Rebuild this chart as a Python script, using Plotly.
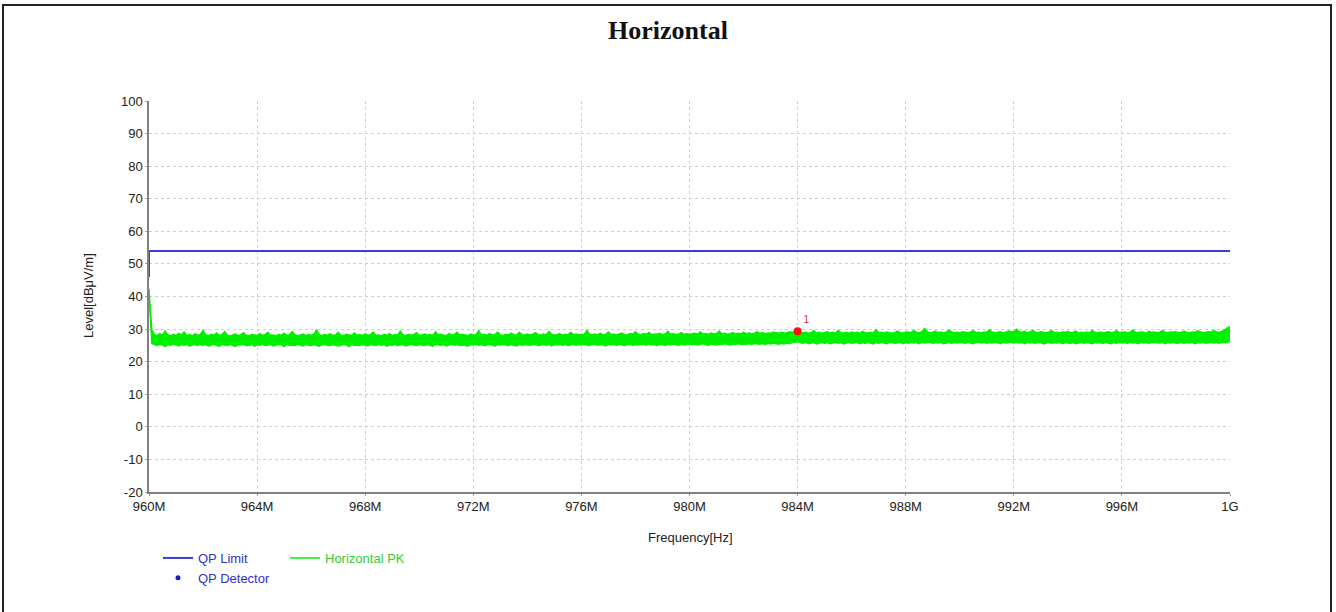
import numpy as np
import plotly.graph_objects as go

# ---- data -------------------------------------------------------------
# limit line (dBuV/m), steps from 46 to 54 at 960 MHz
limit_freq_mhz = [960.0, 960.0, 1000.0]
limit_level = [46.0, 54.0, 54.0]

# peak-detector sweep, summarised as upper / lower envelopes of the trace
# first sample: the start-of-sweep spike at 960 MHz
pk_head_freq_mhz = [960.0]
pk_head_upper = [42.3]
pk_head_lower = [40.5]

# envelopes sampled every 0.1 MHz from 960.1 to 1000.0 MHz (20 values per row = 2 MHz)
pk_upper = [
    29.9, 28.3, 28.0, 28.6, 28.1, 29.4, 28.2, 27.9, 28.4, 28.0, 28.7, 28.2, 29.1, 28.0, 28.3, 27.9, 28.5, 28.1, 28.3, 29.6,
    28.2, 28.0, 28.4, 28.1, 28.8, 28.0, 28.3, 29.2, 28.1, 27.9, 28.2, 28.5, 28.0, 28.3, 28.9, 28.1, 27.9, 28.4, 28.2, 28.0,
    28.6, 28.1, 28.3, 29.0, 28.0, 28.2, 27.9, 28.4, 28.1, 28.7, 28.0, 28.3, 29.3, 28.2, 27.9, 28.1, 28.5, 28.0, 28.3, 28.1,
    28.4, 29.8, 28.2, 28.0, 28.3, 28.1, 28.6, 28.0, 28.2, 29.0, 28.1, 27.9, 28.4, 28.2, 28.0, 28.8, 28.1, 28.3, 28.0, 28.5,
    28.1, 28.3, 29.1, 28.0, 28.2, 27.9, 28.4, 28.1, 28.6, 28.0, 28.3, 28.1, 29.4, 28.2, 28.0, 28.4, 28.1, 28.3, 28.9, 28.0,
    28.2, 28.5, 28.1, 28.3, 28.0, 29.2, 28.2, 28.4, 28.1, 28.0, 28.6, 28.2, 28.3, 29.0, 28.1, 28.4, 28.2, 28.0, 28.5, 28.2,
    28.3, 29.5, 28.2, 28.4, 28.1, 28.6, 28.2, 28.3, 29.1, 28.2, 28.0, 28.4, 28.2, 28.7, 28.3, 28.1, 29.0, 28.3, 28.2, 28.5,
    28.2, 28.4, 28.9, 28.3, 28.1, 28.5, 28.2, 29.3, 28.4, 28.2, 28.3, 28.6, 28.1, 28.4, 28.2, 29.0, 28.3, 28.5, 28.2, 28.4,
    28.3, 29.6, 28.4, 28.2, 28.5, 28.3, 28.7, 28.2, 28.4, 29.1, 28.3, 28.5, 28.2, 28.4, 28.8, 28.3, 28.2, 28.6, 28.4, 29.2,
    28.4, 28.3, 28.6, 28.4, 29.0, 28.3, 28.5, 28.4, 28.7, 28.3, 28.5, 29.3, 28.4, 28.6, 28.3, 28.5, 28.9, 28.4, 28.6, 28.4,
    28.5, 28.7, 28.4, 29.1, 28.5, 28.6, 28.4, 28.8, 28.5, 28.6, 29.4, 28.5, 28.7, 28.4, 28.6, 28.9, 28.5, 28.7, 28.5, 29.0,
    28.6, 28.8, 28.5, 28.7, 29.2, 28.6, 28.9, 28.6, 28.8, 28.7, 29.1, 28.8, 28.7, 29.0, 28.8, 28.9, 29.2, 29.0, 29.1, 29.4,
    29.0, 28.8, 29.1, 28.7, 28.9, 29.5, 28.8, 29.0, 28.7, 28.9, 29.2, 28.8, 29.0, 28.7, 29.6, 28.9, 28.8, 29.0, 28.7, 29.1,
    28.8, 29.0, 28.7, 29.3, 28.9, 28.8, 29.0, 28.7, 29.8, 28.9, 29.0, 28.8, 29.1, 28.9, 28.7, 29.0, 29.4, 28.9, 28.8, 29.0,
    29.1, 28.9, 29.6, 29.0, 28.8, 29.2, 30.2, 29.1, 28.9, 29.0, 29.4, 28.9, 29.1, 28.8, 29.0, 29.7, 29.1, 28.9, 29.0, 28.8,
    29.2, 29.0, 28.8, 29.1, 29.5, 28.9, 29.0, 28.8, 29.1, 29.0, 29.8, 29.1, 28.9, 29.0, 29.2, 28.9, 29.0, 29.4, 29.1, 29.0,
    29.9, 29.2, 29.0, 29.3, 28.9, 29.1, 29.6, 29.0, 28.9, 29.2, 29.0, 28.8, 29.1, 29.5, 28.9, 29.0, 28.8, 29.1, 29.0, 29.3,
    28.9, 29.0, 29.4, 28.8, 29.0, 28.9, 29.1, 28.8, 29.6, 29.0, 28.9, 29.1, 28.8, 29.0, 29.2, 28.9, 29.0, 29.5, 28.9, 29.0,
    29.1, 28.9, 29.0, 29.7, 29.0, 28.9, 29.1, 29.0, 28.8, 29.3, 29.0, 29.1, 28.9, 29.0, 29.6, 29.0, 28.9, 29.1, 29.0, 29.2,
    28.9, 29.0, 29.4, 29.0, 28.9, 29.1, 29.0, 29.5, 29.1, 28.9, 29.0, 29.2, 29.0, 29.6, 29.1, 29.0, 29.3, 29.8, 30.4, 30.8,
]
pk_lower = [
    25.6, 25.2, 24.9, 25.3, 25.1, 24.6, 25.2, 25.0, 25.4, 25.1, 24.8, 25.2, 25.0, 25.3, 24.7, 25.1, 25.2, 24.9, 25.3, 25.0,
    25.2, 24.8, 25.1, 25.3, 25.0, 24.7, 25.2, 25.1, 24.9, 25.3, 25.0, 24.6, 25.2, 25.1, 25.3, 24.9, 25.0, 25.2, 24.7, 25.1,
    25.0, 25.3, 24.9, 25.1, 25.2, 24.8, 25.0, 25.3, 25.1, 24.6, 25.2, 25.0, 25.1, 24.9, 25.3, 25.0, 24.8, 25.2, 25.1, 24.9,
    25.2, 25.0, 24.7, 25.1, 25.3, 25.0, 24.9, 25.2, 25.1, 24.8, 25.0, 25.3, 25.1, 24.6, 25.2, 25.0, 25.1, 24.9, 25.2, 25.0,
    24.8, 25.2, 25.1, 24.9, 25.3, 25.0, 25.2, 24.7, 25.1, 25.0, 25.3, 24.9, 25.1, 25.2, 24.8, 25.0, 25.3, 25.1, 24.9, 25.2,
    25.1, 24.9, 25.2, 25.0, 24.7, 25.3, 25.1, 25.0, 25.2, 24.8, 25.1, 25.3, 25.0, 25.2, 24.9, 25.1, 25.0, 24.7, 25.2, 25.1,
    25.3, 25.0, 25.2, 24.9, 25.1, 25.3, 25.0, 24.8, 25.2, 25.1, 25.3, 25.0, 24.9, 25.2, 25.1, 24.8, 25.3, 25.0, 25.2, 25.1,
    25.0, 25.2, 25.3, 24.9, 25.1, 25.2, 25.0, 25.3, 24.8, 25.2, 25.1, 25.3, 25.0, 25.2, 24.9, 25.1, 25.3, 25.0, 25.2, 25.1,
    25.3, 25.1, 24.9, 25.2, 25.3, 25.0, 25.2, 25.1, 24.8, 25.3, 25.1, 25.2, 25.0, 25.3, 25.1, 24.9, 25.2, 25.3, 25.0, 25.2,
    25.1, 25.3, 25.2, 25.0, 25.4, 25.1, 25.2, 24.9, 25.3, 25.2, 25.0, 25.3, 25.1, 25.4, 25.2, 25.0, 25.3, 25.1, 25.2, 25.4,
    25.2, 25.4, 25.1, 25.3, 25.5, 25.2, 25.0, 25.4, 25.3, 25.1, 25.4, 25.2, 25.5, 25.3, 25.1, 25.4, 25.2, 25.5, 25.3, 25.4,
    25.3, 25.5, 25.2, 25.6, 25.4, 25.3, 25.5, 25.2, 25.6, 25.4, 25.7, 25.5, 25.3, 25.6, 25.4, 25.7, 25.5, 25.8, 25.9, 26.1,
    25.8, 25.6, 25.9, 25.5, 25.7, 25.8, 25.4, 25.7, 25.9, 25.6, 25.8, 25.5, 25.7, 25.9, 25.6, 25.8, 25.4, 25.7, 25.9, 25.6,
    25.7, 25.9, 25.5, 25.8, 25.6, 25.9, 25.7, 25.4, 25.8, 25.6, 25.9, 25.7, 25.5, 25.8, 25.9, 25.6, 25.7, 25.9, 25.5, 25.8,
    25.6, 25.9, 25.7, 25.8, 25.5, 25.9, 25.7, 25.8, 26.0, 25.6, 25.8, 25.7, 25.9, 25.5, 25.8, 25.9, 25.6, 25.8, 25.7, 25.9,
    25.8, 25.6, 25.9, 25.7, 25.5, 25.8, 26.0, 25.7, 25.9, 25.6, 25.8, 25.7, 25.9, 25.8, 25.5, 25.9, 25.7, 25.8, 26.0, 25.7,
    25.9, 25.7, 25.8, 25.5, 25.9, 25.7, 25.8, 25.6, 25.9, 25.8, 25.4, 25.7, 25.9, 25.6, 25.8, 25.7, 25.9, 25.5, 25.8, 25.7,
    25.6, 25.8, 25.5, 25.7, 25.9, 25.6, 25.8, 25.7, 25.5, 25.9, 25.7, 25.8, 25.6, 25.9, 25.7, 25.5, 25.8, 25.6, 25.9, 25.7,
    25.8, 25.6, 25.9, 25.7, 25.8, 25.5, 25.9, 25.7, 25.8, 25.6, 25.9, 25.8, 25.6, 25.7, 25.9, 25.5, 25.8, 25.7, 25.9, 25.6,
    25.7, 25.9, 25.6, 25.8, 25.7, 25.9, 25.5, 25.8, 25.7, 25.9, 25.6, 25.8, 25.9, 25.7, 25.8, 25.6, 25.9, 25.8, 26.0, 26.2,
]

# marker 1
mark_freq_mhz = [984.0]
mark_level = [29.3]
mark_label = ["1"]

# axis ticks
x_tick_mhz = [960, 964, 968, 972, 976, 980, 984, 988, 992, 996, 1000]
x_tick_text = ["960M", "964M", "968M", "972M", "976M", "980M", "984M", "988M", "992M", "996M", "1G"]
y_tick_vals = [-20, -10, 0, 10, 20, 30, 40, 50, 60, 70, 80, 90, 100]
y_tick_text = ["-20", "-10", "0", "10", "20", "30", "40", "50", "60", "70", "80", "90", "100"]

# ---- build ------------------------------------------------------------
MHZ = 1e6
sweep_mhz = np.round(960.1 + 0.1 * np.arange(len(pk_upper)), 1)
pk_freq = (np.concatenate([pk_head_freq_mhz, sweep_mhz]) * MHZ).tolist()
upper = pk_head_upper + pk_upper
lower = pk_head_lower + pk_lower

LIMIT_BLUE = "#3b3bdc"
PK_GREEN = "#00f000"
FONT = "Liberation Sans, Arial, sans-serif"

fig = go.Figure()

fig.add_trace(go.Scatter(
    x=[f * MHZ for f in limit_freq_mhz], y=limit_level, mode="lines",
    name="QP Limit", line=dict(color=LIMIT_BLUE, width=2), legend="legend",
))
# no quasi-peak readings in this sweep; the trace only carries its legend entry
fig.add_trace(go.Scatter(
    x=[None], y=[None], mode="markers", name="QP Detector",
    marker=dict(color="#1f1fb0", size=5), legend="legend",
))
fig.add_trace(go.Scatter(
    x=pk_freq, y=upper, mode="lines", name="Horizontal PK",
    line=dict(color=PK_GREEN, width=1.5), legend="legend2",
))
fig.add_trace(go.Scatter(
    x=pk_freq, y=lower, mode="lines", showlegend=False,
    line=dict(color=PK_GREEN, width=1.2), fill="tonexty", fillcolor=PK_GREEN,
))
fig.add_trace(go.Scatter(
    x=[f * MHZ for f in mark_freq_mhz], y=mark_level, mode="markers+text",
    text=mark_label, textposition="top right", showlegend=False,
    marker=dict(color="#ff1010", size=8),
    textfont=dict(color="#e03030", size=10, family=FONT),
))

L, R, T, B = 149, 106, 101, 120
W, H = 1336, 612
pw, ph = W - L - R, H - T - B


def px_x(px):
    return (px - L) / pw


def px_y(py):
    return (H - B - py) / ph


axis_common = dict(
    showline=True, linecolor="#808080", linewidth=1.5,
    showgrid=True, gridcolor="#cfcfcf", griddash="dot", gridwidth=1,
    zeroline=False, ticks="outside", ticklen=2, tickcolor="#a0a0a0",
    tickfont=dict(family=FONT, size=13, color="#222222"),
)

fig.update_xaxes(
    range=[960 * MHZ, 1000 * MHZ],
    tickvals=[t * MHZ for t in x_tick_mhz], ticktext=x_tick_text,
    **axis_common,
)
fig.update_yaxes(range=[-20, 100], tickvals=y_tick_vals, ticktext=y_tick_text, **axis_common)

fig.update_layout(
    width=W, height=H,
    margin=dict(l=L, r=R, t=T, b=B),
    paper_bgcolor="white", plot_bgcolor="white",
    title=dict(
        text="<b>Horizontal</b>", x=0.5, xanchor="center",
        y=1 - 30 / H, yref="container", yanchor="middle",
        font=dict(family="Liberation Serif, Times New Roman, serif", size=26, color="#111111"),
    ),
    legend=dict(
        x=px_x(158), y=px_y(543), xanchor="left", yanchor="top",
        orientation="v", bgcolor="rgba(0,0,0,0)", itemwidth=30, traceorder="normal",
        font=dict(family=FONT, size=13, color="#3232c8"), tracegroupgap=0,
    ),
    legend2=dict(
        x=px_x(285), y=px_y(543), xanchor="left", yanchor="top",
        orientation="v", bgcolor="rgba(0,0,0,0)", itemwidth=30, traceorder="normal",
        font=dict(family=FONT, size=13, color="#33cc33"),
    ),
    annotations=[
        dict(text="Level[dBμV/m]", x=px_x(88), y=px_y(296), xref="paper", yref="paper",
             textangle=-90, showarrow=False, xanchor="center", yanchor="middle",
             font=dict(family=FONT, size=13, color="#222222")),
        dict(text="Frequency[Hz]", x=px_x(690), y=px_y(537), xref="paper", yref="paper",
             showarrow=False, xanchor="center", yanchor="middle",
             font=dict(family=FONT, size=13, color="#222222")),
    ],
    shapes=[
        dict(type="rect", xref="paper", yref="paper",
             x0=px_x(3), x1=px_x(1331), y0=px_y(620), y1=px_y(5),
             line=dict(color="#222222", width=2), fillcolor="rgba(0,0,0,0)", layer="below"),
    ],
    hovermode=False,
    showlegend=True,
)

fig.write_html("out.html", config={"displayModeBar": False})
